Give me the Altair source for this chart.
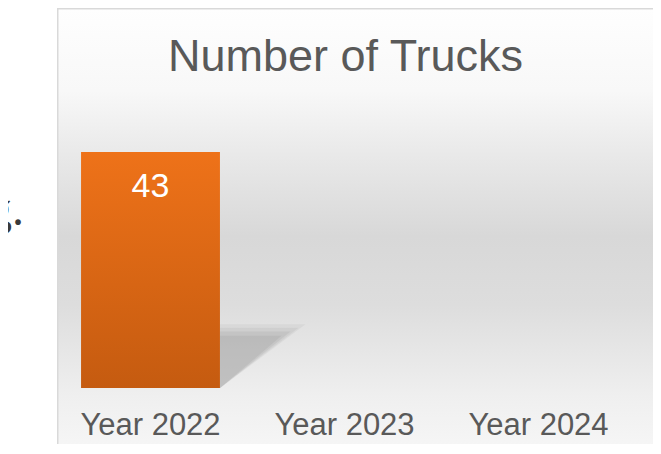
import altair as alt
import pandas as pd

# ---- data ----
categories = ["Year 2022", "Year 2023", "Year 2024"]
trucks = [43, None, None]
title_text = "Number of Trucks"

# ---- layout (svg coordinates; page = svg + 8) ----
W, H = 582, 274.4          # plot area
PAD_L, PAD_T = 45.5, 105.6
SVG_W, SVG_H = 645, 436
PAD_R = SVG_W - PAD_L - W
PAD_B = SVG_H - PAD_T - H

df = pd.DataFrame({"cat": categories, "n": trucks})

FONT = "Liberation Sans"
GREY = "#595959"

x_band = alt.X("cat:N", sort=categories,
               scale=alt.Scale(paddingInner=0.284, paddingOuter=0.142),
               axis=alt.Axis(title=None, labelAngle=0, domain=False, ticks=False,
                             tickSize=0, labelPadding=22, labelFont=FONT,
                             labelFontSize=31, labelColor=GREY, grid=False,
                             zindex=1, orient="bottom"))
y_lin = alt.Y("n:Q", scale=alt.Scale(domain=[0, 50]), axis=None)

# background panel of the chart frame (decoration)
bg_df = pd.DataFrame({"k": [0]})
background = alt.Chart(bg_df).mark_rect(
    fill=alt.Gradient(gradient="linear", x1=0, x2=0, y1=0, y2=1, stops=[
        alt.GradientStop(offset=0.0, color="#fefefe"),
        alt.GradientStop(offset=0.18, color="#f8f8f8"),
        alt.GradientStop(offset=0.32, color="#e9e9e9"),
        alt.GradientStop(offset=0.5, color="#d8d8d8"),
        alt.GradientStop(offset=0.65, color="#dddddd"),
        alt.GradientStop(offset=0.85, color="#efefef"),
        alt.GradientStop(offset=1.0, color="#f8f8f8"),
    ]),
    stroke="#d9d9d9", strokeWidth=1.5,
).encode(
    x=alt.value(49 - PAD_L + 0.75),
    x2=alt.value(SVG_W + 20 - PAD_L),
    y=alt.value(-PAD_T + 0.75),
    y2=alt.value(SVG_H + 20 - PAD_T),
)

# soft shadow cast by the bar (decoration): a few stacked translucent wedges
def wedge(x0, x1, top, op):
    d = pd.DataFrame({"sx": [x0, x1], "top": [top, top], "low": [0.0, top]})
    return alt.Chart(d).mark_area(color="#8a8a8a", opacity=op).encode(
        x=alt.X("sx:Q", scale=alt.Scale(domain=[0, W], nice=False, zero=False), axis=None),
        y=alt.Y("top:Q", scale=alt.Scale(domain=[0, 50]), axis=None),
        y2="low:Q",
    )

shadow = alt.layer(
    wedge(166.5, 252.0, 11.6, 0.10),
    wedge(166.5, 245.0, 11.0, 0.12),
    wedge(166.5, 237.0, 10.3, 0.14),
    wedge(166.5, 228.0, 9.5, 0.16),
)

bars = alt.Chart(df).mark_bar(
    fill=alt.Gradient(gradient="linear", x1=0, x2=0, y1=0, y2=1, stops=[
        alt.GradientStop(offset=0.0, color="#ee7219"),
        alt.GradientStop(offset=1.0, color="#c55b10"),
    ]),
).encode(x=x_band, y=y_lin)

labels = alt.Chart(df).mark_text(
    baseline="alphabetic", dy=45, font=FONT, fontSize=34, color="white",
).encode(x=alt.X("cat:N", sort=categories), y=y_lin, text=alt.Text("n:Q"))

bar_layer = alt.layer(bars, labels)

# chart title drawn as text above the plot
title = alt.Chart(bg_df).mark_text(
    text=title_text, align="center", baseline="alphabetic", font=FONT,
    fontSize=45, color=GREY,
).encode(x=alt.value(337.5 - PAD_L), y=alt.value(63 - PAD_T))

# fragment of document text left of the chart frame
frag = alt.Chart(bg_df).mark_text(
    text="g.", align="right", baseline="alphabetic", font="Liberation Serif",
    fontSize=48, color="#3a3a3a",
).encode(x=alt.value(16 - PAD_L), y=alt.value(217 - PAD_T))

chart = alt.layer(background, frag, title, shadow, bar_layer).resolve_scale(
    x="independent"
).properties(
    width=W, height=H,
    autosize=alt.AutoSizeParams(type="none"),
    padding={"left": PAD_L, "top": PAD_T, "right": PAD_R, "bottom": PAD_B},
).configure_view(strokeWidth=0)

chart.save("out.html", embed_options={"renderer": "svg", "actions": False})
